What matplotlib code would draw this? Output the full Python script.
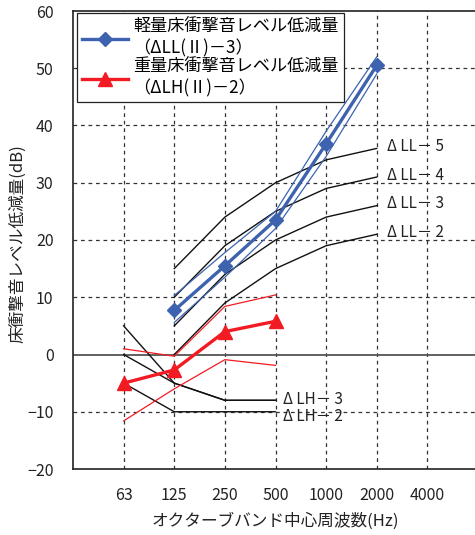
import matplotlib
matplotlib.use("Agg")
import matplotlib.pyplot as plt
from matplotlib.lines import Line2D

plt.rcParams['font.family'] = ['Noto Sans CJK JP', 'DejaVu Sans']

# Octave band centre frequencies
freq_labels = ["63", "125", "250", "500", "1000", "2000", "4000"]

# Lightweight floor impact: reference grades ΔLL-2..5 (125 Hz - 2 kHz)
ll_freqs = ["125", "250", "500", "1000", "2000"]
ll_grade_2 = [0, 9, 15, 19, 21]
ll_grade_3 = [5, 14, 20, 24, 26]
ll_grade_4 = [10, 19, 25, 29, 31]
ll_grade_5 = [15, 24, 30, 34, 36]

# Measured ΔLL(Ⅱ)-3 and its spread
ll_meas = [7.7, 15.5, 23.5, 36.8, 50.5]
ll_upper = [10.3, 17.8, 25.0, 39.0, 52.0]
ll_lower = [5.6, 13.5, 22.0, 34.6, 49.0]

# Heavyweight floor impact: reference grades (63 - 500 Hz)
lh_freqs = ["63", "125", "250", "500"]
lh_grade_3a = [5, -5, -8, -8]
lh_grade_3 = [0, -5, -8, -8]
lh_grade_2 = [-5, -10, -10, -10]

# Measured ΔLH(Ⅱ)-2 and its spread
lh_meas = [-5.0, -2.7, 4.0, 5.8]
lh_upper = [1.0, -0.3, 8.4, 10.4]
lh_lower = [-11.6, -6.0, -0.9, -1.9]

ll_labels = ["Δ LL－ 5", "Δ LL－ 4", "Δ LL－ 3", "Δ LL－ 2"]
lh_labels = ["Δ LH－ 3", "Δ LH－ 2"]

BLUE = "#3d63b0"
RED = "#f21b23"
INK = "#222222"

fig = plt.figure(figsize=(4.75, 5.35), dpi=100)
ax = fig.add_axes([73 / 475, 66 / 535, 405 / 475, 458 / 535])

pos = {f: i + 1 for i, f in enumerate(freq_labels)}
xll = [pos[f] for f in ll_freqs]
xlh = [pos[f] for f in lh_freqs]

ax.set_xlim(0, 8)
ax.set_ylim(-20, 60)

# grid
grid_kw = dict(color="#333333", lw=0.9, ls=(0, (3, 3)), zorder=1)
for x in range(1, 8):
    ax.axvline(x, **grid_kw)
for y in range(-10, 60, 10):
    if y != 0:
        ax.axhline(y, **grid_kw)
ax.axhline(0, color="#555555", lw=1.3, zorder=1)

# reference grade curves
for vals in (ll_grade_2, ll_grade_3, ll_grade_4, ll_grade_5):
    ax.plot(xll, vals, color="#111111", lw=1.0, zorder=2)
for vals in (lh_grade_3a, lh_grade_3, lh_grade_2):
    ax.plot(xlh, vals, color="#111111", lw=1.0, zorder=2)

# measured spread
ax.plot(xll, ll_upper, color=BLUE, lw=0.9, zorder=3)
ax.plot(xll, ll_lower, color=BLUE, lw=0.9, zorder=3)
ax.plot(xlh, lh_upper, color=RED, lw=0.9, zorder=3)
ax.plot(xlh, lh_lower, color=RED, lw=0.9, zorder=3)

# measured mean
ax.plot(xll, ll_meas, color=BLUE, lw=2.4, marker="D", ms=7.5, zorder=4)
ax.plot(xlh, lh_meas, color=RED, lw=2.4, marker="^", ms=10, zorder=4)

# grade labels
for vals, lab in zip((ll_grade_5, ll_grade_4, ll_grade_3, ll_grade_2), ll_labels):
    ax.text(6.2, vals[-1] + 0.3, lab, fontsize=11, va="center", ha="left",
            color=INK, zorder=5)
ax.text(4.15, lh_grade_3[-1] + 0.2, lh_labels[0], fontsize=11, va="center",
        ha="left", color=INK, zorder=5)
ax.text(4.15, lh_grade_2[-1] - 0.9, lh_labels[1], fontsize=11, va="center",
        ha="left", color=INK, zorder=5)

ax.set_xticks(range(1, 8))
ax.set_xticklabels(freq_labels)
ax.set_yticks(range(-20, 70, 10))
ax.set_yticklabels([str(v).replace("-", "−") for v in range(-20, 70, 10)])
ax.tick_params(length=0, labelsize=11.5, colors=INK)
ax.tick_params(axis="y", pad=14)
ax.tick_params(axis="x", pad=13)

for s in ax.spines.values():
    s.set_color(INK)
    s.set_linewidth(1.2)

ax.set_xlabel("オクターブバンド中心周波数(Hz)", fontsize=12, color=INK,
              labelpad=6)
fig.text(18 / 475, (535 - 244) / 535, "床衝撃音レベル低減量(dB)", fontsize=12,
         color=INK, rotation=90, ha="center", va="center")

handles = [
    Line2D([], [], color=BLUE, lw=2.4, marker="D", ms=7.5),
    Line2D([], [], color=RED, lw=2.4, marker="^", ms=10),
]
labels = ["軽量床衝撃音レベル低減量\n（ΔLL(Ⅱ)－3）",
          "重量床衝撃音レベル低減量\n（ΔLH(Ⅱ)－2）"]
leg = ax.legend(handles, labels, loc="upper left",
                bbox_to_anchor=(4 / 405, 1 - 2 / 458), borderaxespad=0,
                fontsize=12.3, frameon=True, fancybox=False, framealpha=1,
                edgecolor=INK, handlelength=2.7, handletextpad=0.3,
                labelspacing=0.05, borderpad=0.3)
leg.get_frame().set_linewidth(0.9)
leg.set_zorder(6)

fig.savefig("out.png", dpi=100)
